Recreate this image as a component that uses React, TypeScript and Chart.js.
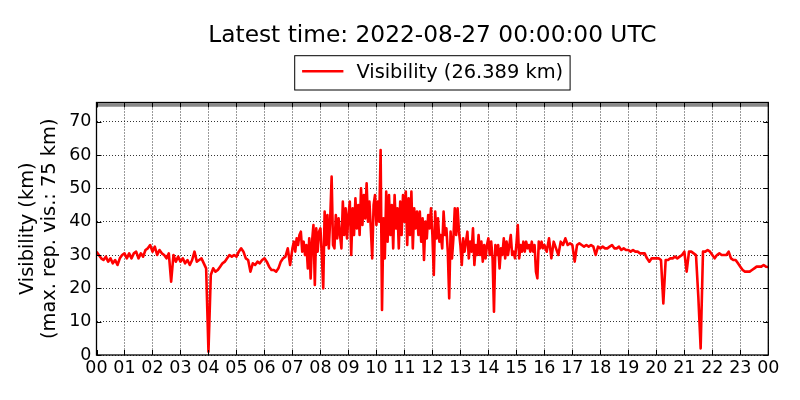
import { useEffect, useRef } from "react";
import { Chart, registerables, type Plugin } from "chart.js";

Chart.register(...registerables);
Chart.defaults.font.family = '"DejaVu Sans", sans-serif';

const TITLE = "Latest time: 2022-08-27 00:00:00 UTC";
const MAX_REPORTED = 75;
const Y_MAX = 75.75;

const hourLabels = [
  "00", "01", "02", "03", "04", "05", "06", "07", "08", "09", "10", "11", "12",
  "13", "14", "15", "16", "17", "18", "19", "20", "21", "22", "23", "00",
];

// visibility in km. quiet hours read every 5 min, the noisy
// middle of the day every 3 min. one row per hour.
const EARLY_START = 0;
const EARLY_PER_HOUR = 12;
const visibilityEarly = [
  31, 30, 29, 28.5, 29.5, 28, 29, 27.5, 28.5, 27, 29, 30,
  30.5, 29, 30.5, 29, 30.5, 31, 29, 30.5, 29.5, 31.5, 32, 33,
  31, 32.5, 30, 31.5, 30.5, 30, 29, 30.5, 22, 30, 28, 29.5,
  28, 29, 27.5, 28.5, 27, 28.5, 31, 28, 28.5, 29, 27.5, 26,
  1, 24, 26, 25, 25.5, 26.5, 27.5, 28, 29, 30, 29.5, 30,
  29.5, 31, 32, 31, 29, 28.5, 25, 27.5, 27, 28, 27.5, 28.5,
  29, 28, 26.5, 25.5, 25.5, 25, 26, 28, 29, 29.5, 32, 27,
];

const BUSY_START = 7;
const BUSY_PER_HOUR = 20;
const visibilityBusy = [
  32, 34, 31, 35, 33, 36, 37, 31, 34, 30, 33, 26, 35, 23, 34, 39, 21, 38, 31, 37,
  38, 30, 20, 43, 33, 42, 32, 41, 53.5, 33, 32, 42, 35, 41, 36, 32, 46, 36, 44, 35,
  42, 46, 30, 44, 36, 47, 38, 45, 36, 50, 39, 48, 41, 51.5, 40, 46, 38, 29, 45, 48,
  39, 46, 40, 61.5, 13.5, 41, 29, 49, 34, 48, 36, 45, 32, 48, 38, 44, 32, 46, 36, 48,
  40, 49, 33, 47, 36, 49, 32, 44, 38, 43, 36, 43, 34, 41, 28.5, 40, 35, 42, 38, 44,
  36, 24, 43, 35, 41, 34, 36, 32, 43, 36, 38, 31, 17, 37, 29, 35, 44, 36, 44, 37,
  33, 27, 35, 31, 34, 37, 29, 34, 31, 38, 27, 33, 30, 36, 30, 34, 28, 33, 29, 33,
  35, 30, 34, 29, 13, 33, 30, 33, 26, 32, 30, 35, 29, 34, 30, 33, 36, 30, 31, 29,
  33, 39, 29, 33, 31, 34, 31, 34, 32, 33, 31, 34, 31, 33, 25, 23, 34, 32, 34, 32,
];

const LATE_START = 16;
const LATE_PER_HOUR = 12;
const visibilityLate = [
  33, 31, 35, 29, 34, 32, 30, 34, 33, 35, 33, 33.5,
  33, 28, 33, 33.5, 33, 32.5, 33, 32.5, 33, 32.5, 30, 32.5,
  32, 32.5, 32, 32, 32.5, 33, 32, 32, 32.5, 31.5, 32, 31.5,
  31.5, 31, 31.5, 31, 31, 30.5, 30.5, 30.5, 29, 28, 29, 29,
  29, 29, 28.5, 15.5, 28.5, 28.5, 29, 29, 29.5, 29, 29.5, 30,
  31, 25, 31, 31, 30.5, 30, 17.5, 2, 31, 31, 31.5, 31,
  30, 29, 30, 30.5, 30, 30, 30, 31, 29, 28.5, 28.5, 27.5,
  26.5, 25.5, 25, 25, 25, 25.5, 26, 26.5, 26.5, 26.5, 27, 26.5,
  26.389,
];

const latest = visibilityLate[visibilityLate.length - 1];
const legendText = `Visibility (${latest.toFixed(3)} km)`;

const toPoints = (values: number[], start: number, perHour: number) =>
  values.map((v, i) => ({ x: start + i / perHour, y: v }));

// title, legend box, frame and inward tick marks
const decorPlugin: Plugin<"line"> = {
  id: "decor",
  afterDraw(chart) {
    const { ctx, chartArea: a, scales } = chart;
    const cx = (a.left + a.right) / 2;
    ctx.save();

    ctx.strokeStyle = "#000";
    ctx.lineWidth = 1;
    ctx.beginPath();
    scales.x.ticks.forEach((t) => {
      const px = Math.round(scales.x.getPixelForValue(t.value)) + 0.5;
      ctx.moveTo(px, a.bottom);
      ctx.lineTo(px, a.bottom - 5);
      ctx.moveTo(px, a.top);
      ctx.lineTo(px, a.top + 5);
    });
    scales.y.ticks.forEach((t) => {
      const py = Math.round(scales.y.getPixelForValue(t.value)) + 0.5;
      ctx.moveTo(a.left, py);
      ctx.lineTo(a.left + 5, py);
      ctx.moveTo(a.right, py);
      ctx.lineTo(a.right - 5, py);
    });
    ctx.stroke();

    ctx.lineWidth = 1.3;
    ctx.strokeRect(a.left, a.top, a.right - a.left, a.bottom - a.top);

    ctx.fillStyle = "#000";
    ctx.textBaseline = "alphabetic";
    ctx.textAlign = "center";
    ctx.font = '23.3px "DejaVu Sans"';
    ctx.fillText(TITLE, cx, 41.7);

    ctx.font = '19.4px "DejaVu Sans"';
    const tw = ctx.measureText(legendText).width;
    const boxW = 7.4 + 41.3 + 13 + tw + 7;
    const bx = cx - boxW / 2;
    ctx.fillStyle = "#fff";
    ctx.fillRect(bx, 55.7, boxW, 34.3);
    ctx.lineWidth = 1;
    ctx.strokeRect(bx, 55.7, boxW, 34.3);
    ctx.strokeStyle = "#ff0000";
    ctx.lineWidth = 2.5;
    ctx.beginPath();
    ctx.moveTo(bx + 7.4, 71.2);
    ctx.lineTo(bx + 7.4 + 41.3, 71.2);
    ctx.stroke();
    ctx.fillStyle = "#000";
    ctx.textAlign = "left";
    ctx.fillText(legendText, bx + 7.4 + 41.3 + 13, 77.7);

    ctx.restore();
  },
};

export default function App() {
  const canvasRef = useRef<HTMLCanvasElement>(null);

  useEffect(() => {
    if (!canvasRef.current) return;

    const series = [
      ...toPoints(visibilityEarly, EARLY_START, EARLY_PER_HOUR),
      ...toPoints(visibilityBusy, BUSY_START, BUSY_PER_HOUR),
      ...toPoints(visibilityLate, LATE_START, LATE_PER_HOUR),
    ];

    const chart = new Chart(canvasRef.current, {
      type: "line",
      data: {
        datasets: [
          {
            label: "Visibility",
            data: series,
            borderColor: "#ff0000",
            borderWidth: 2.6,
            borderJoinStyle: "round",
            pointRadius: 0,
            tension: 0,
          },
          {
            label: "max reported",
            data: [
              { x: 0, y: MAX_REPORTED },
              { x: 24, y: MAX_REPORTED },
            ],
            borderColor: "#888888",
            borderWidth: 3.5,
            pointRadius: 0,
          },
        ],
      },
      options: {
        animation: false,
        responsive: true,
        maintainAspectRatio: false,
        layout: { padding: { top: 102.5, right: 31.7, left: 0, bottom: 0 } },
        plugins: {
          legend: { display: false },
          title: { display: false },
          tooltip: { enabled: false },
        },
        scales: {
          x: {
            type: "linear",
            min: 0,
            max: 24,
            z: 1,
            afterFit: (s) => {
              s.height = 45;
            },
            grid: { color: "#000", lineWidth: 0.8, drawTicks: false },
            border: { display: false, dash: [1, 2] },
            ticks: {
              stepSize: 1,
              autoSkip: false,
              maxRotation: 0,
              includeBounds: false,
              padding: 3,
              color: "#000",
              font: { size: 17.5 },
              callback: (v) => hourLabels[Number(v)] ?? "",
            },
          },
          y: {
            min: 0,
            max: Y_MAX,
            z: 1,
            afterFit: (s) => {
              s.width = 96.5;
            },
            grid: { color: "#000", lineWidth: 0.8, drawTicks: false },
            border: { display: false, dash: [1, 2] },
            ticks: {
              stepSize: 10,
              includeBounds: false,
              padding: 5,
              color: "#000",
              font: { size: 17.5 },
            },
            title: {
              display: true,
              text: ["Visibility (km)", "(max. rep. vis.: 75 km)"],
              color: "#000",
              font: { size: 19.4, lineHeight: 1.134 },
              padding: { top: 17, bottom: 0 },
            },
          },
        },
      },
      plugins: [decorPlugin],
    });

    return () => {
      chart.destroy();
    };
  }, []);

  return (
    <div style={{ position: "fixed", left: 0, top: 0, width: 800, height: 400, background: "#fff" }}>
      <canvas ref={canvasRef} />
    </div>
  );
}
